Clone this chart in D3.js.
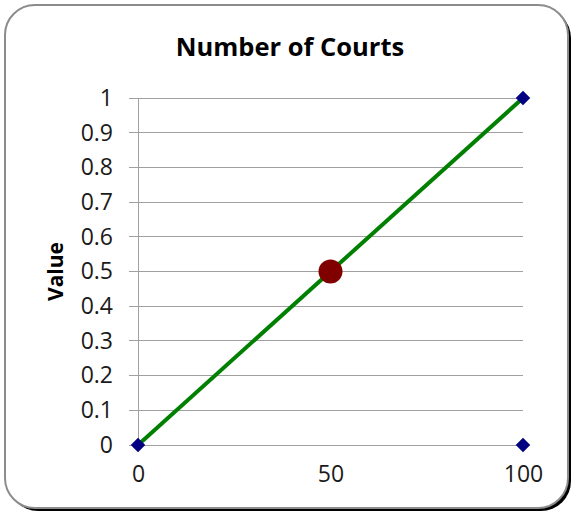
<!DOCTYPE html>
<html>
<head>
<meta charset="utf-8">
<script src="https://cdn.jsdelivr.net/npm/d3@7"></script>
<style>
  body { margin: 0; background: #fff; }
  svg { display: block; }
</style>
</head>
<body>
<svg id="chart"></svg>
<script>
// Chart data
const lineX = [0, 100]
const lineY = [0, 1]
const markerPoints = [[0, 0], [100, 1], [100, 0]]
const midPoint = [50, 0.5]
const yTicks = [0, 0.1, 0.2, 0.3, 0.4, 0.5, 0.6, 0.7, 0.8, 0.9, 1]
const xTicks = [0, 50, 100]

const width = 576
const height = 514
const font = "'Open Sans', sans-serif"

const svg = d3.select("#chart")
  .attr("width", width)
  .attr("height", height)

// Frame with shadow on bottom right
svg.append("rect")
  .attr("x", 8).attr("y", 8)
  .attr("width", 563).attr("height", 503)
  .attr("rx", 30)
  .attr("fill", "#000")
svg.append("rect")
  .attr("x", 5).attr("y", 5)
  .attr("width", 563).attr("height", 503)
  .attr("rx", 30)
  .attr("fill", "#fff")
  .attr("stroke", "#8c8c8c")
  .attr("stroke-width", 2)

const x = d3.scaleLinear().domain([0, 100]).range([138, 523])
const y = d3.scaleLinear().domain([0, 1]).range([445, 98])

// Gridlines (with short tick stub left of the axis)
svg.append("g")
  .selectAll("line")
  .data(yTicks)
  .join("line")
  .attr("x1", x(0) - 9)
  .attr("x2", x(100))
  .attr("y1", d => y(d))
  .attr("y2", d => y(d))
  .attr("stroke", "#a0a0a0")
  .attr("stroke-width", 1)
  .attr("shape-rendering", "crispEdges")

// Y axis
svg.append("g")
  .attr("transform", `translate(${x(0)}, 0)`)
  .call(d3.axisLeft(y).tickValues(yTicks).tickSize(0).tickPadding(25)
    .tickFormat(d => d3.format("~g")(d)))
  .call(g => g.select(".domain").attr("stroke", "#a0a0a0").attr("shape-rendering", "crispEdges"))
  .call(g => g.selectAll(".tick text")
    .attr("font-family", font)
    .attr("font-size", 23)
    .attr("fill", "#1a1a1a"))

// X axis labels
svg.append("g")
  .attr("transform", `translate(0, ${y(0)})`)
  .call(d3.axisBottom(x).tickValues(xTicks).tickSize(0).tickPadding(21))
  .call(g => g.select(".domain").remove())
  .call(g => g.selectAll(".tick text")
    .attr("font-family", font)
    .attr("font-size", 23)
    .attr("fill", "#1a1a1a"))

// Title
svg.append("text")
  .attr("x", 290)
  .attr("y", 56)
  .attr("text-anchor", "middle")
  .attr("font-family", font)
  .attr("font-weight", "bold")
  .attr("font-size", 25.5)
  .attr("fill", "#000")
  .text("Number of Courts")

// Y label
svg.append("text")
  .attr("transform", `translate(63, ${(y(0) + y(1)) / 2}) rotate(-90)`)
  .attr("text-anchor", "middle")
  .attr("font-family", font)
  .attr("font-weight", "bold")
  .attr("font-size", 21)
  .attr("fill", "#000")
  .text("Value")

// Green line
const lineData = lineX.map((d, i) => [d, lineY[i]])
svg.append("path")
  .datum(lineData)
  .attr("d", d3.line().x(d => x(d[0])).y(d => y(d[1])))
  .attr("fill", "none")
  .attr("stroke", "#008000")
  .attr("stroke-width", 4)

// Diamond markers
svg.append("g")
  .selectAll("path")
  .data(markerPoints)
  .join("path")
  .attr("transform", d => `translate(${x(d[0])}, ${y(d[1])})`)
  .attr("d", d3.symbol(d3.symbolDiamond2, 135))
  .attr("fill", "#000080")

// Midpoint circle
svg.append("circle")
  .attr("cx", x(midPoint[0]))
  .attr("cy", y(midPoint[1]))
  .attr("r", 12)
  .attr("fill", "#800000")
</script>
</body>
</html>
